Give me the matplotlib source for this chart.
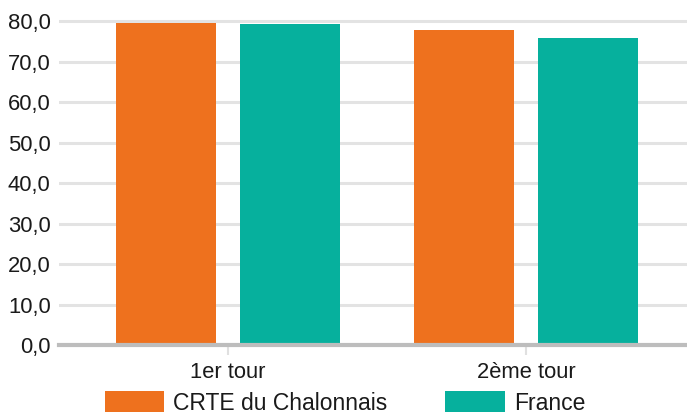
import matplotlib.pyplot as plt
import numpy as np

plt.rcParams['font.family'] = ['Liberation Sans', 'DejaVu Sans']

categories = ["1er tour", "2ème tour"]
series_names = ["CRTE du Chalonnais", "France"]
crte = [79.6, 77.9]
france = [79.3, 75.9]
colors = ["#EE711E", "#06B09D"]
yticks = [0, 10, 20, 30, 40, 50, 60, 70, 80]

W, H = 687, 416
fig = plt.figure(figsize=(W / 100, H / 100), dpi=100)
# axes placed in pixel units
left, right, bottom_px, top_px = 59, 687, 345, 19.3
ax = fig.add_axes([left / W, (H - bottom_px) / H, (right - left) / W, (bottom_px - top_px) / H])

x = np.arange(len(categories))
bw = 0.336
off = 0.208
ax.bar(x - off, crte, bw, color=colors[0], label=series_names[0], zorder=3)
ax.bar(x + off, france, bw, color=colors[1], label=series_names[1], zorder=3)

ax.set_xlim(-0.567, 1.54)
ax.set_ylim(0, 80.5)
ax.set_yticks(yticks)
ax.set_yticklabels([f"{v:.1f}".replace(".", ",") for v in yticks])
ax.set_xticks(x)
ax.set_xticklabels(categories)

ax.grid(axis='y', color='#e3e3e3', linewidth=2.2, zorder=0)
for s in ['top', 'right', 'left']:
    ax.spines[s].set_visible(False)
ax.spines['bottom'].set_color('#bdbdbd')
ax.spines['bottom'].set_linewidth(3)
ax.spines['bottom'].set_zorder(4)

ax.tick_params(axis='y', length=0, pad=6, labelsize=15.8, labelcolor='#1a1a1a')
ax.tick_params(axis='x', length=7, width=1.5, color='#e0e0e0', pad=5, labelsize=15.8, labelcolor='#1a1a1a')

fig.legend(loc='center', bbox_to_anchor=(0.502, (H - 403) / H), ncol=2, frameon=False,
           fontsize=16.5, handlelength=2.6, handleheight=1.0, handletextpad=0.4,
           columnspacing=2.5, labelcolor='#1a1a1a')

fig.savefig("out.png", dpi=100)
